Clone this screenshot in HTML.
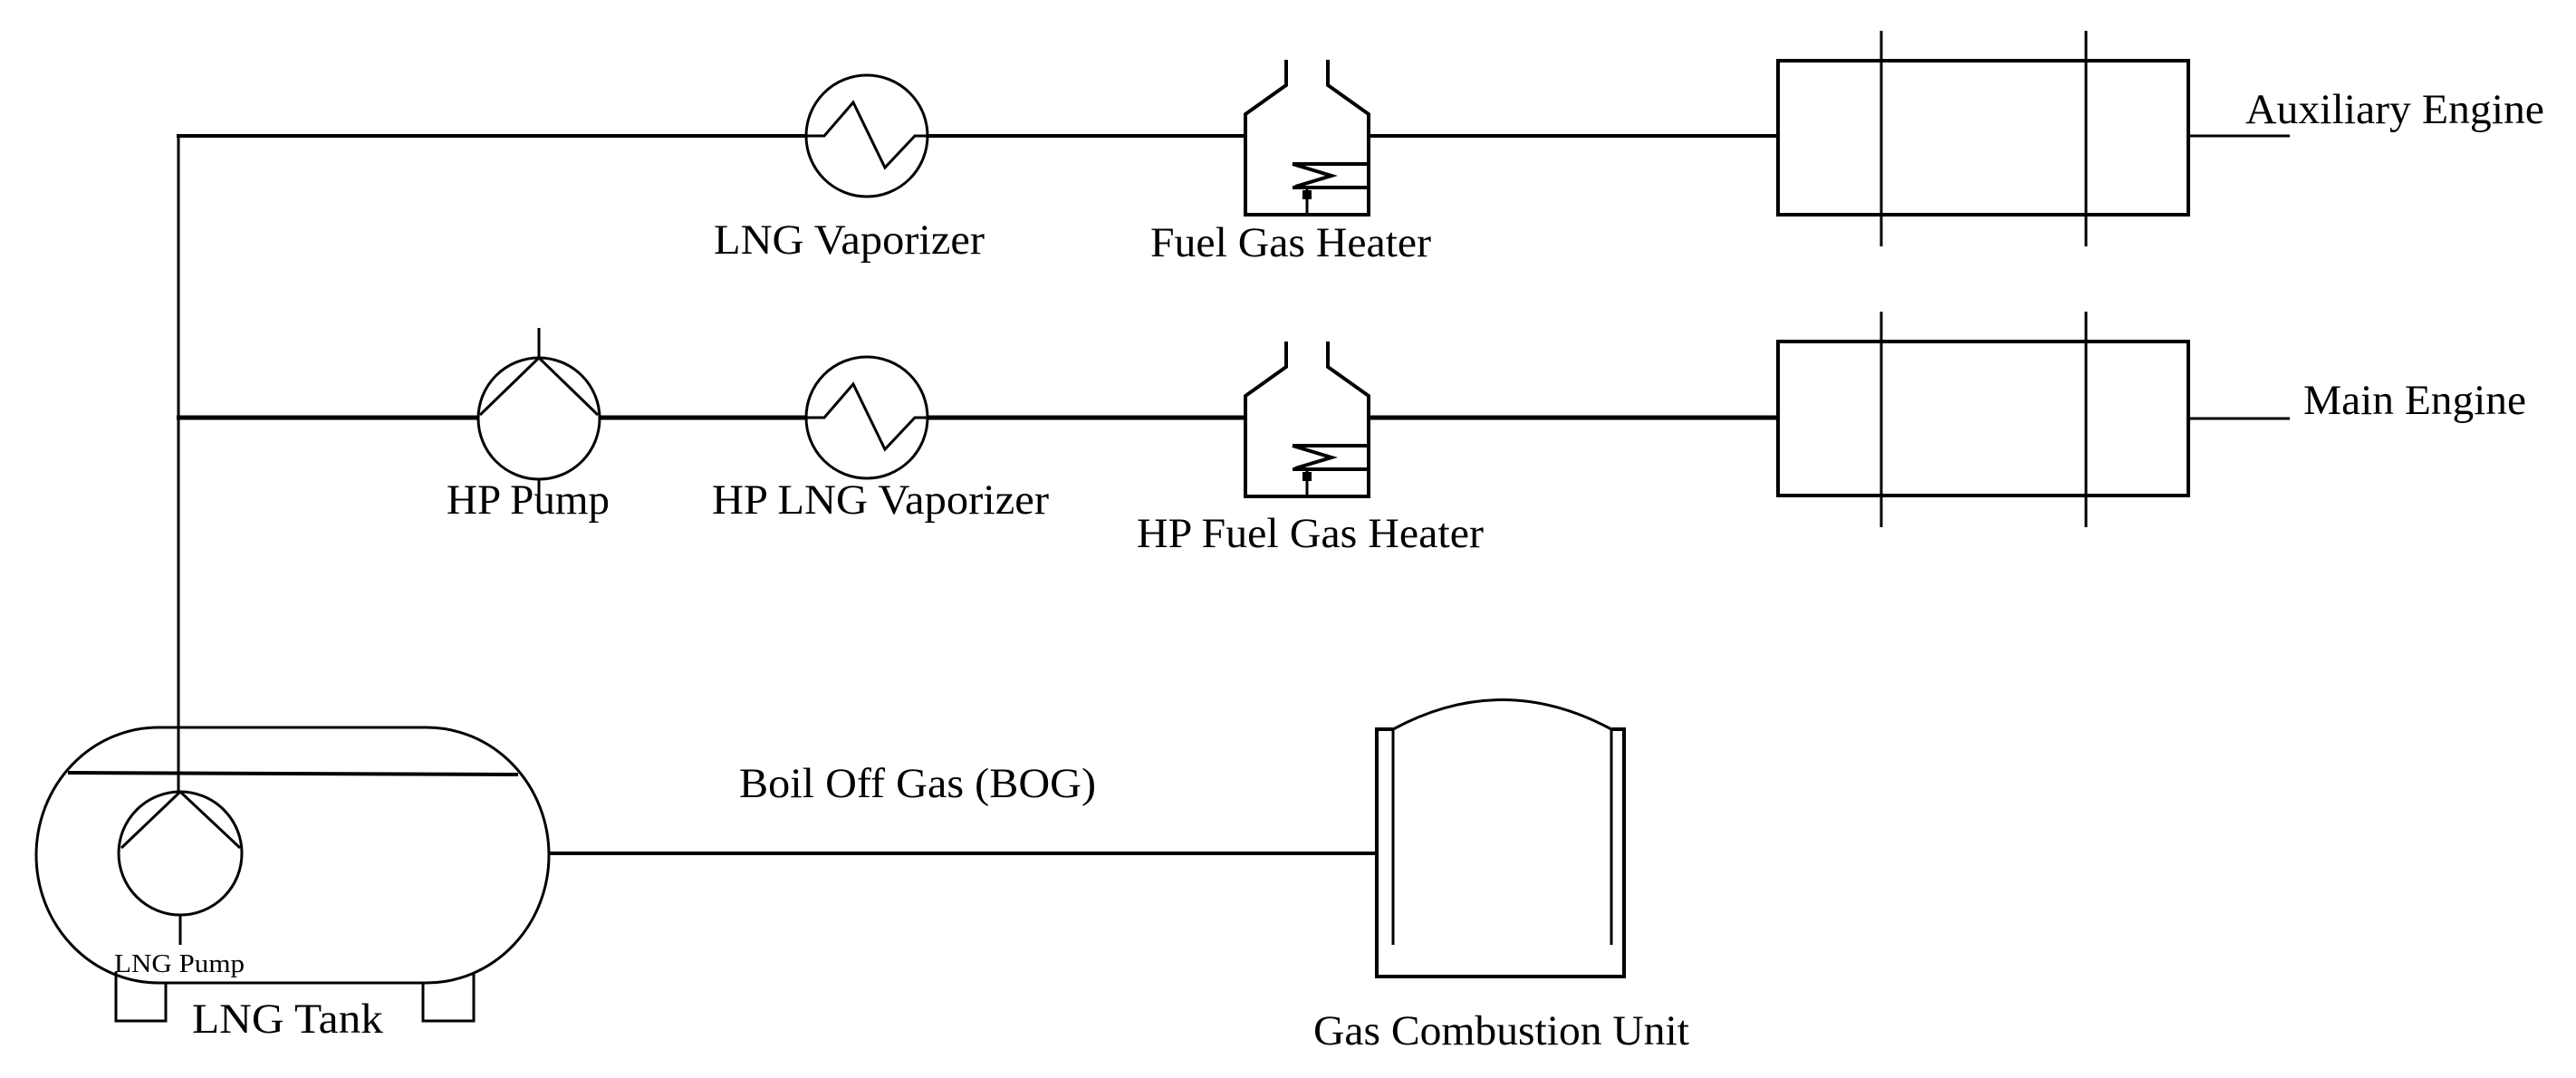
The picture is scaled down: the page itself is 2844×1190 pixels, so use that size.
<!DOCTYPE html>
<html><head><meta charset="utf-8"><style>
html,body{margin:0;padding:0;background:#fff;}
svg{display:block;}
text{font-family:"Liberation Serif",serif;fill:#000;}
</style></head><body>
<svg width="2844" height="1190" viewBox="0 0 2844 1190" xmlns="http://www.w3.org/2000/svg">
<defs>
<g id="vap">
 <circle cx="0" cy="0" r="67" fill="none" stroke="#000" stroke-width="3"/>
 <polyline points="-67,0 -47,0 -15,-37 20,35 53,0 67,0" fill="none" stroke="#000" stroke-width="3"/>
</g>
<g id="heat">
 <path d="M1375,150 V126 L1420,94 V66 M1466,66 V94 L1511,126 V150 M1375,150 V237 H1511 V150" fill="none" stroke="#000" stroke-width="4"/>
 <path d="M1427,181 H1511 M1427,207 H1511" fill="none" stroke="#000" stroke-width="4"/>
 <polyline points="1427,181 1470,194 1430,206" fill="none" stroke="#000" stroke-width="4"/>
 <line x1="1443" y1="207" x2="1443" y2="237" stroke="#000" stroke-width="3"/>
 <rect x="1438" y="210" width="10" height="10" fill="#000"/>
</g>
<g id="eng">
 <rect x="1963" y="67" width="453" height="170" fill="none" stroke="#000" stroke-width="4"/>
 <line x1="2077" y1="34" x2="2077" y2="272" stroke="#000" stroke-width="3"/>
 <line x1="2303" y1="34" x2="2303" y2="272" stroke="#000" stroke-width="3"/>
</g>
</defs>

<line x1="197" y1="150" x2="197" y2="875" stroke="#000" stroke-width="3"/>
<!-- row 1 -->
<line x1="195" y1="150" x2="890" y2="150" stroke="#000" stroke-width="4"/>
<use href="#vap" x="957" y="150"/>
<line x1="1024" y1="150" x2="1375" y2="150" stroke="#000" stroke-width="4"/>
<use href="#heat"/>
<line x1="1511" y1="150" x2="1963" y2="150" stroke="#000" stroke-width="4"/>
<use href="#eng"/>
<line x1="2416" y1="150" x2="2528" y2="150" stroke="#000" stroke-width="3"/>

<!-- row 2 -->
<line x1="195" y1="461" x2="528" y2="461" stroke="#000" stroke-width="5"/>
<circle cx="595" cy="462" r="67" fill="none" stroke="#000" stroke-width="3"/>
<path d="M595,362 V395 M595,395 L530,458 M595,395 L660,458 M595,529 V563" fill="none" stroke="#000" stroke-width="3"/>
<line x1="662" y1="461" x2="890" y2="461" stroke="#000" stroke-width="5"/>
<use href="#vap" x="957" y="461"/>
<line x1="1024" y1="461" x2="1375" y2="461" stroke="#000" stroke-width="5"/>
<use href="#heat" y="311"/>
<line x1="1511" y1="461" x2="1963" y2="461" stroke="#000" stroke-width="5"/>
<use href="#eng" y="310"/>
<line x1="2416" y1="462" x2="2528" y2="462" stroke="#000" stroke-width="3"/>

<!-- tank -->
<rect x="40" y="803" width="566" height="282" rx="135" ry="141" fill="none" stroke="#000" stroke-width="3"/>
<line x1="75" y1="853" x2="572" y2="855" stroke="#000" stroke-width="4"/>
<circle cx="199" cy="942" r="68" fill="none" stroke="#000" stroke-width="3"/>
<path d="M199,874 L134,936 M199,874 L265,936 M199,1010 V1043" fill="none" stroke="#000" stroke-width="3"/>
<path d="M128,1073 V1127 H183 V1085 M467,1085 V1127 H523 V1073" fill="none" stroke="#000" stroke-width="3"/>
<line x1="606" y1="942" x2="1520" y2="942" stroke="#000" stroke-width="4"/>
<!-- GCU -->
<path d="M1538,805 H1520 V1078 H1793 V805 H1779" fill="none" stroke="#000" stroke-width="4"/>
<path d="M1538,805 Q1658,740 1779,805" fill="none" stroke="#000" stroke-width="3"/>
<path d="M1538,805 V1043 M1779,805 V1043" fill="none" stroke="#000" stroke-width="3"/>

<!-- labels -->
<text x="788" y="280" font-size="47" textLength="299" lengthAdjust="spacingAndGlyphs">LNG Vaporizer</text>
<text x="1270" y="283" font-size="47" textLength="310" lengthAdjust="spacingAndGlyphs">Fuel Gas Heater</text>
<text x="2479" y="136" font-size="47" textLength="330" lengthAdjust="spacingAndGlyphs">Auxiliary Engine</text>
<text x="493" y="567" font-size="47" textLength="180" lengthAdjust="spacingAndGlyphs">HP Pump</text>
<text x="786" y="567" font-size="47" textLength="372" lengthAdjust="spacingAndGlyphs">HP LNG Vaporizer</text>
<text x="1255" y="604" font-size="47" textLength="383" lengthAdjust="spacingAndGlyphs">HP Fuel Gas Heater</text>
<text x="2543" y="457" font-size="47" textLength="246" lengthAdjust="spacingAndGlyphs">Main Engine</text>
<text x="816" y="880" font-size="47" textLength="394" lengthAdjust="spacingAndGlyphs">Boil Off Gas (BOG)</text>
<text x="126" y="1073" font-size="28" textLength="144" lengthAdjust="spacingAndGlyphs" fill="#333">LNG Pump</text>
<text x="212" y="1140" font-size="47" textLength="211" lengthAdjust="spacingAndGlyphs">LNG Tank</text>
<text x="1450" y="1153" font-size="47" textLength="415" lengthAdjust="spacingAndGlyphs">Gas Combustion Unit</text>
</svg>
</body></html>
